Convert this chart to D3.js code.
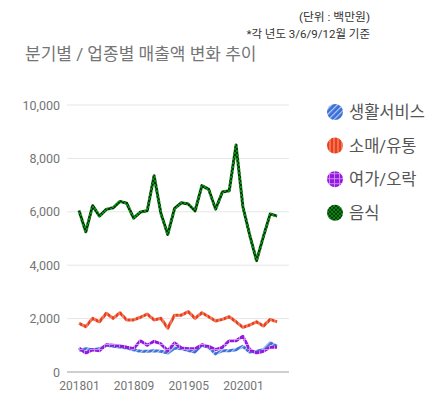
<!DOCTYPE html>
<html>
<head>
<meta charset="utf-8">
<script src="https://cdn.jsdelivr.net/npm/d3@7"></script>
<style>
  body { margin: 0; background: #fff; }
  text { font-family: Roboto, "Noto Sans CJK KR", sans-serif; }
</style>
</head>
<body>
<script>
// months shown on the axis (every 8th label)
var months = ["201801","201802","201803","201804","201805","201806","201807","201808","201809","201810","201811","201812",
              "201901","201902","201903","201904","201905","201906","201907","201908","201909","201910","201911","201912",
              "202001","202002","202003","202004","202005","202006"];
var tickLabels = ["201801","201809","201905","202001"];
var yTicks = [0, 2000, 4000, 6000, 8000, 10000];

var seriesNames = ["생활서비스", "소매/유통", "여가/오락", "음식"];

var living = [800, 870, 835, 870, 1000, 960, 935, 900, 835, 775, 775, 800, 775, 710, 900,
              875, 800, 750, 1000, 925, 675, 800, 800, 835, 960, 750, 775, 835, 1090, 960];
var retail = [1820, 1700, 2010, 1880, 2200, 2010, 2220, 1950, 1950, 2050, 2170, 1950, 2010, 1640, 2130,
              2130, 2260, 2010, 2220, 2070, 1910, 1970, 2070, 1880, 1670, 1760, 1880, 1720, 1970, 1880];
var leisure = [900, 710, 835, 800, 1020, 1000, 985, 925, 875, 1170, 1000, 1150, 1050, 800, 1090,
               900, 870, 870, 1020, 960, 835, 925, 1170, 1170, 1335, 835, 710, 775, 925, 925];
var food = [6050, 5250, 6230, 5840, 6090, 6150, 6390, 6320, 5760, 5990, 6040, 7350, 5940, 5150, 6130,
            6340, 6290, 6030, 6980, 6840, 6100, 6740, 6790, 8500, 6190, 5130, 4170, 5070, 5920, 5840];

var seriesValues = [living, retail, leisure, food];

var width = 430, height = 400;
var svg = d3.select("body").append("svg")
    .attr("width", width)
    .attr("height", height);

// --- patterns for each series ---
var defs = svg.append("defs");

var pBlue = defs.append("pattern").attr("id", "pat0")
    .attr("patternUnits", "userSpaceOnUse").attr("width", 4).attr("height", 4)
    .attr("patternTransform", "rotate(45)");
pBlue.append("rect").attr("width", 4).attr("height", 4).attr("fill", "#3a6fd8");
pBlue.append("rect").attr("width", 1.2).attr("height", 4).attr("fill", "#b8ccf2");

var pRed = defs.append("pattern").attr("id", "pat1")
    .attr("patternUnits", "userSpaceOnUse").attr("width", 4).attr("height", 4);
pRed.append("rect").attr("width", 4).attr("height", 4).attr("fill", "#e8401c");
pRed.append("rect").attr("x", 2.5).attr("width", 1).attr("height", 4).attr("fill", "#f6a58c");

var pPurple = defs.append("pattern").attr("id", "pat2")
    .attr("patternUnits", "userSpaceOnUse").attr("width", 5).attr("height", 5);
pPurple.append("rect").attr("width", 5).attr("height", 5).attr("fill", "#9418de");
pPurple.append("rect").attr("x", 4).attr("width", 1).attr("height", 5).attr("fill", "#c98af0");
pPurple.append("rect").attr("y", 4).attr("width", 5).attr("height", 1).attr("fill", "#c98af0");

var pGreen = defs.append("pattern").attr("id", "pat3")
    .attr("patternUnits", "userSpaceOnUse").attr("width", 4).attr("height", 4);
pGreen.append("rect").attr("width", 4).attr("height", 4).attr("fill", "#0c8a16");
pGreen.append("rect").attr("width", 2).attr("height", 2).attr("fill", "#053a08");
pGreen.append("rect").attr("x", 2).attr("y", 2).attr("width", 2).attr("height", 2).attr("fill", "#053a08");

// --- scales ---
var plotLeft = 67, plotRight = 289, plotTop = 105, plotBottom = 372;

var x = d3.scalePoint()
    .domain(months)
    .range([plotLeft, plotRight])
    .padding(1.75);

var y = d3.scaleLinear()
    .domain([0, 10000])
    .range([plotBottom, plotTop]);

// --- gridlines ---
svg.append("g").selectAll("line")
    .data(yTicks.filter(function(d) { return d > 0; }))
    .enter().append("line")
    .attr("x1", plotLeft).attr("x2", plotRight)
    .attr("y1", function(d) { return y(d); })
    .attr("y2", function(d) { return y(d); })
    .attr("stroke", "#e6e6e6").attr("stroke-width", 1);

// --- y axis ---
var yAxis = d3.axisLeft(y)
    .tickValues(yTicks)
    .tickSize(0)
    .tickPadding(6)
    .tickFormat(d3.format(","));

var yG = svg.append("g")
    .attr("transform", "translate(" + (plotLeft - 1) + ",0)")
    .call(yAxis);
yG.select(".domain").remove();
yG.selectAll("text").attr("fill", "#757575").style("font-size", "12.5px");

// --- x axis ---
var xAxis = d3.axisBottom(x)
    .tickValues(tickLabels)
    .tickSize(0)
    .tickPadding(9);

var xG = svg.append("g")
    .attr("transform", "translate(0," + plotBottom + ")")
    .call(xAxis);
xG.select(".domain").remove();
xG.selectAll("text").attr("fill", "#757575").style("font-size", "12px");

// baseline
svg.append("line")
    .attr("x1", plotLeft).attr("x2", plotRight)
    .attr("y1", y(0)).attr("y2", y(0))
    .attr("stroke", "#9e9e9e").attr("stroke-width", 1);

// --- lines ---
var line = d3.line()
    .x(function(d, i) { return x(months[i]); })
    .y(function(d) { return y(d); });

svg.append("g").selectAll("path")
    .data(seriesValues)
    .enter().append("path")
    .attr("d", function(d) { return line(d); })
    .attr("fill", "none")
    .attr("stroke", function(d, i) { return "url(#pat" + i + ")"; })
    .attr("stroke-width", 3)
    .attr("stroke-linejoin", "round");

// --- legend ---
var legend = svg.append("g").selectAll("g")
    .data(seriesNames)
    .enter().append("g")
    .attr("transform", function(d, i) { return "translate(335," + (112 + i * 33.6) + ")"; });

legend.append("circle")
    .attr("r", 8)
    .attr("fill", function(d, i) { return "url(#pat" + i + ")"; });

legend.append("text")
    .attr("x", 14)
    .attr("dy", "0.36em")
    .attr("fill", "#555")
    .style("font-size", "16.5px")
    .text(function(d) { return d; });

// --- titles ---
svg.append("text")
    .attr("x", 25).attr("y", 60)
    .attr("fill", "#757575")
    .style("font-size", "17px")
    .text("분기별 / 업종별 매출액 변화 추이");

svg.append("text")
    .attr("x", 370).attr("y", 21)
    .attr("text-anchor", "end")
    .attr("fill", "#333")
    .style("font-size", "11.8px")
    .text("(단위 : 백만원)");

svg.append("text")
    .attr("x", 370).attr("y", 38)
    .attr("text-anchor", "end")
    .attr("fill", "#333")
    .style("font-size", "11.5px")
    .text("*각 년도 3/6/9/12월 기준");
</script>
</body>
</html>
